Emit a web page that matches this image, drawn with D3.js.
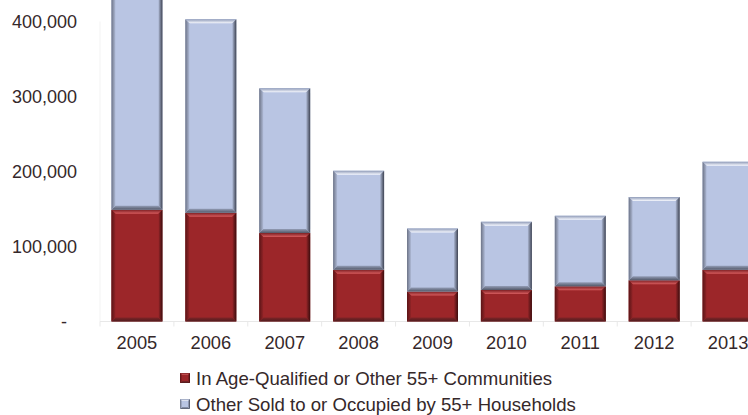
<!DOCTYPE html>
<html>
<head>
<meta charset="utf-8">
<script src="https://cdn.jsdelivr.net/npm/d3@7/dist/d3.min.js"></script>
<style>
  html, body { margin: 0; padding: 0; background: #ffffff; }
  svg { display: block; font-family: "Liberation Sans", Arial, sans-serif; }
</style>
</head>
<body>
<svg id="chart" width="748" height="415"></svg>
<script>
// Homes sold to / occupied by 55+ households, by year
const years = ["2005", "2006", "2007", "2008", "2009", "2010", "2011", "2012", "2013"];
const ageQualified = [149000, 145000, 118000, 69000, 40000, 42000, 47000, 55000, 69000];
const otherHouseholds = [310000, 258000, 193000, 132000, 84000, 91000, 94000, 111000, 144000];
const yTicks = [0, 100000, 200000, 300000, 400000];
const seriesNames = ["In Age-Qualified or Other 55+ Communities", "Other Sold to or Occupied by 55+ Households"];

const svg = d3.select("#chart");
const textColor = "#35282a";

const x = d3.scaleBand().domain(years).range([100, 765]).paddingInner(0.31).paddingOuter(0.155);
const y = d3.scaleLinear().domain([0, 400000]).range([321.5, 21.5]);

// bevel palettes
const palettes = {
  red:  { base: "#9c2629", top: ["#7e2024", "#d65c5e"], left: ["#5a1416", "#922427"], right: ["#952528", "#3a0c0d"], bottom: ["#7e2427", "#4f1c1e"] },
  blue: { base: "#b9c5e3", top: ["#8f9bb8", "#f7f9ff"], left: ["#6c7386", "#aeb9d5"], right: ["#aab5d0", "#3d4251"], bottom: ["#939db6", "#525868"] }
};

const defs = svg.append("defs");
Object.entries(palettes).forEach(([key, p]) => {
  const grad = (id, x1, y1, x2, y2, c0, c1) => {
    const g = defs.append("linearGradient").attr("id", id)
      .attr("x1", x1).attr("y1", y1).attr("x2", x2).attr("y2", y2);
    g.append("stop").attr("offset", "0%").attr("stop-color", c0);
    g.append("stop").attr("offset", "100%").attr("stop-color", c1);
  };
  grad(key + "-top", 0, 0, 0, 1, p.top[0], p.top[1]);
  grad(key + "-bottom", 0, 0, 0, 1, p.bottom[0], p.bottom[1]);
  grad(key + "-left", 0, 0, 1, 0, p.left[0], p.left[1]);
  grad(key + "-right", 0, 0, 1, 0, p.right[0], p.right[1]);
});

function bevelBox(g, bx, by, w, h, key, b) {
  const p = palettes[key];
  const cell = g.append("g");
  cell.append("rect").attr("x", bx).attr("y", by).attr("width", w).attr("height", h).attr("fill", p.base);
  const poly = (pts, fill) => cell.append("polygon")
    .attr("points", pts.map(q => q.join(",")).join(" ")).attr("fill", fill);
  poly([[bx, by], [bx + w, by], [bx + w - b, by + b], [bx + b, by + b]], `url(#${key}-top)`);
  poly([[bx + b, by + h - b], [bx + w - b, by + h - b], [bx + w, by + h], [bx, by + h]], `url(#${key}-bottom)`);
  poly([[bx, by], [bx + b, by + b], [bx + b, by + h - b], [bx, by + h]], `url(#${key}-left)`);
  poly([[bx + w - b, by + b], [bx + w, by], [bx + w, by + h], [bx + w - b, by + h - b]], `url(#${key}-right)`);
}

// faint frame: left edge and baseline with category ticks
svg.append("line").attr("x1", 100).attr("x2", 100).attr("y1", 21.5).attr("y2", y(0))
  .attr("stroke", "#f3f3f3").attr("stroke-width", 1);
svg.append("line").attr("x1", 100).attr("x2", 765).attr("y1", y(0)).attr("y2", y(0))
  .attr("stroke", "#e8e8e8").attr("stroke-width", 1);
const step = x.step();
svg.append("g").selectAll("line").data(d3.range(years.length + 1)).join("line")
  .attr("x1", i => 100 + i * step).attr("x2", i => 100 + i * step)
  .attr("y1", y(0)).attr("y2", y(0) + 5)
  .attr("stroke", "#e8e8e8").attr("stroke-width", 1);

// stacked bars
const stackRows = years.map((yr, i) => ({ year: yr, a: ageQualified[i], o: otherHouseholds[i] }));
const stacked = d3.stack().keys(["a", "o"])(stackRows);
const bars = svg.append("g");
stacked.forEach((layer, li) => {
  const key = li === 0 ? "red" : "blue";
  layer.forEach(seg => {
    const x0 = x(seg.data.year);
    const yTop = y(seg[1]);
    const yBot = y(seg[0]);
    bevelBox(bars, x0, yTop, x.bandwidth(), yBot - yTop, key, 4);
  });
});

// y axis
const yAxis = svg.append("g").attr("transform", "translate(100,0)")
  .call(d3.axisLeft(y).tickValues(yTicks).tickSize(0).tickPadding(23)
    .tickFormat(d => d === 0 ? "-" : d3.format(",")(d)));
yAxis.select(".domain").remove();
yAxis.selectAll("text").attr("font-size", 18).attr("fill", textColor)
  .attr("font-family", "Liberation Sans, Arial, sans-serif")
  .attr("dx", d => d === 0 ? -10 : 0);

// x axis
const xAxis = svg.append("g").attr("transform", `translate(0,${y(0)})`)
  .call(d3.axisBottom(x).tickSize(0).tickPadding(15));
xAxis.select(".domain").remove();
xAxis.selectAll("text").attr("font-size", 18.3).attr("fill", textColor)
  .attr("font-family", "Liberation Sans, Arial, sans-serif");

// legend
const legend = svg.append("g");
seriesNames.forEach((name, i) => {
  const ly = 378 + i * 26;
  bevelBox(legend, 180, ly - 5, 10, 10, i === 0 ? "red" : "blue", 2);
  legend.append("text").attr("x", 196).attr("y", ly).attr("dy", "0.35em")
    .attr("font-size", 18.6).attr("fill", textColor).text(name);
});
</script>
</body>
</html>
